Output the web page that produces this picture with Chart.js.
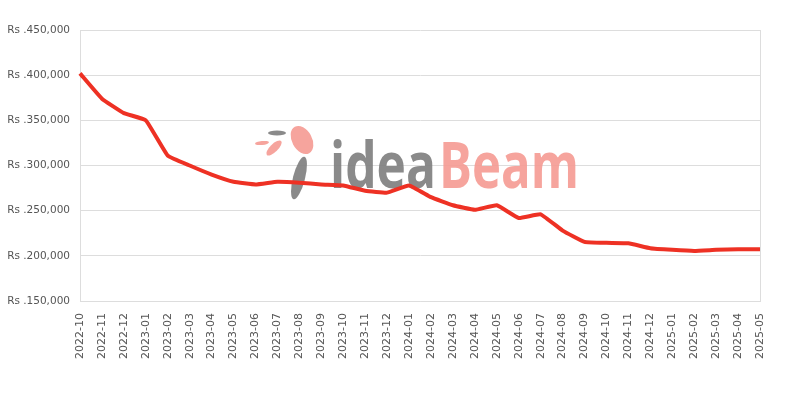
<!DOCTYPE html>
<html>
<head>
<meta charset="utf-8">
<script src="https://cdn.jsdelivr.net/npm/chart.js@4"></script>
<style>
  body { margin: 0; background: #fff; }
  #wrap { width: 800px; height: 400px; }
</style>
</head>
<body>
<div id="wrap"><canvas id="priceChart"></canvas></div>
<script>
const months = ['2022-10', '2022-11', '2022-12', '2023-01', '2023-02', '2023-03', '2023-04', '2023-05',
  '2023-06', '2023-07', '2023-08', '2023-09', '2023-10', '2023-11', '2023-12', '2024-01',
  '2024-02', '2024-03', '2024-04', '2024-05', '2024-06', '2024-07', '2024-08', '2024-09',
  '2024-10', '2024-11', '2024-12', '2025-01', '2025-02', '2025-03', '2025-04', '2025-05'];
const prices = [402000, 374000, 358000, 350000, 311000, 300000, 290000, 282000,
  279000, 282000, 281000, 279000, 278000, 272000, 270000, 278000,
  265000, 256000, 251000, 256000, 242000, 246000, 228000, 215500,
  214400, 214000, 208500, 206700, 205500, 206700, 207400, 207400];
const yTicks = [150000, 200000, 250000, 300000, 350000, 400000, 450000];

// watermark logo drawn under the line
const watermark = {
  id: 'watermark',
  beforeDatasetsDraw(chart) {
    const c = chart.ctx;
    c.save();
    c.globalAlpha = 0.9;
    c.font = 'bold 64px "Open Sans", sans-serif';
    c.textBaseline = 'alphabetic';
    c.fillStyle = '#7d7d7d';
    c.fillText('idea', 330, 188, 106);
    c.fillStyle = '#f59a92';
    c.fillText('Beam', 439, 188, 140);
    // little bird / feathers
    c.fillStyle = '#f59a92';
    c.beginPath(); c.ellipse(262, 143, 7, 2, -0.1, 0, Math.PI * 2); c.fill();
    c.beginPath(); c.ellipse(274, 148, 4, 10, 0.8, 0, Math.PI * 2); c.fill();
    c.beginPath(); c.ellipse(302, 140, 10, 15, -0.5, 0, Math.PI * 2); c.fill();
    c.fillStyle = '#7d7d7d';
    c.beginPath(); c.ellipse(277, 133, 9, 2.5, 0, 0, Math.PI * 2); c.fill();
    c.beginPath(); c.ellipse(299, 178, 6, 22, 0.25, 0, Math.PI * 2); c.fill();
    c.restore();
  }
};

const ctxPrice = document.getElementById('priceChart').getContext('2d');
const priceChart = new Chart(ctxPrice, {
  type: 'line',
  data: {
    labels: months,
    datasets: [{
      label: 'Price',
      data: prices,
      borderColor: '#ee3124',
      borderWidth: 4,
      pointRadius: 0,
      tension: 0.1,
      fill: false
    }]
  },
  options: {
    responsive: true,
    maintainAspectRatio: false,
    animation: false,
    layout: { padding: { left: 0, right: 40, top: 30, bottom: 29 } },
    plugins: {
      legend: { display: false },
      tooltip: { enabled: false }
    },
    scales: {
      x: {
        grid: {
          drawTicks: false,
          color: ctx => (ctx.index === 0 || ctx.index === months.length - 1) ? '#dddddd' : 'rgba(0,0,0,0)'
        },
        border: { color: '#dddddd' },
        ticks: {
          autoSkip: false,
          maxRotation: 90,
          minRotation: 90,
          padding: 12,
          color: '#555',
          font: { size: 11, family: 'DejaVu Sans' }
        }
      },
      y: {
        min: 150000,
        max: 450000,
        afterBuildTicks: axis => { axis.ticks = yTicks.map(v => ({ value: v })); },
        afterFit: axis => { axis.width = 80; },
        grid: { drawTicks: false, color: '#dddddd' },
        border: { color: '#dddddd' },
        ticks: {
          padding: 10,
          color: '#555',
          font: { size: 10.5, family: 'DejaVu Sans' },
          callback: value => `Rs .${value.toLocaleString('en-US')}`
        }
      }
    }
  },
  plugins: [watermark]
});
</script>
</body>
</html>
